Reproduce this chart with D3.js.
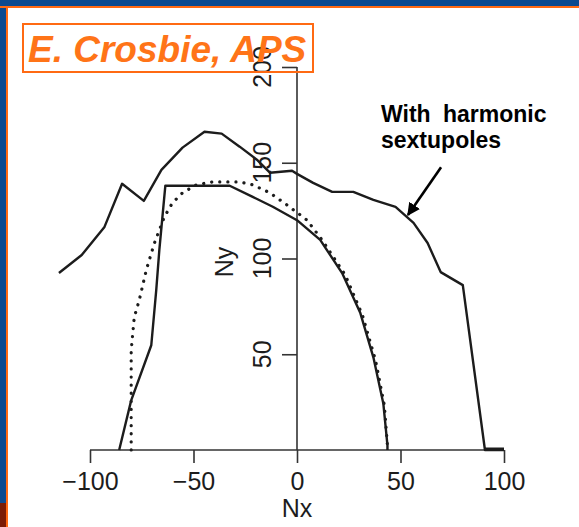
<!DOCTYPE html>
<html>
<head>
<meta charset="utf-8">
<script src="https://cdn.jsdelivr.net/npm/d3@7"></script>
<style>
  html, body { margin: 0; padding: 0; background: #fff; }
  svg { display: block; font-family: "Liberation Sans", Arial, sans-serif; }
</style>
</head>
<body>
<svg id="chart" width="579" height="527"></svg>
<script>
// Dynamic aperture in units of beam size (Nx, Ny).
var harmonicNx = [-115, -104, -93, -84.5, -74, -65.5, -55.3, -44.7, -36.4, -27.7, -19.4, -13.1, -2.4, 0,
                  7.8, 17, 27.2, 36.9, 47.6, 56.3, 63.1, 69.4, 80.1, 90.8, 100];
var harmonicNy = [92.4, 101.8, 116.5, 139, 130.1, 146.3, 157.9, 166.2, 165.2, 158.4, 151.6, 144.8, 145.8, 144.2,
                  139.5, 134.8, 134.8, 130.6, 127, 118.6, 108.1, 92.9, 86.1, 0, 0];

var trackedNx = [-85.9, -80.1, -70.4, -68, -66.5, -63.6, -32.5, -21.4, -11.7, 0, 11.2, 21.8, 30.6, 36.9, 41.7, 43.7, 43.7];
var trackedNy = [0, 25.9, 54.7, 83.5, 104.5, 138, 138, 132.2, 127, 120, 109.7, 92.4, 71.5, 48.4, 24.3, 2.4, 0];

var dottedNx = [-80.1, -80.1, -78.6, -76.2, -72.8, -68.9, -64.1, -60.2, -55.3, -48.5, -40.8, -34, -27.7, -21.4,
                -13.1, -4.9, 4.9, 12.1, 23.3, 31.6, 37.9, 42.2, 43.7];
var dottedNy = [0, 52, 69.4, 78.3, 94, 108, 121.7, 129, 134.3, 138.5, 140, 140, 140, 138.5,
                134.3, 128, 120, 109.7, 91.4, 70.4, 47, 23.3, 2];

var xTicks = [-100, -50, 0, 50, 100];
var yTicks = [50, 100, 150, 200];

var svg = d3.select("#chart");

// slide frame
svg.append("rect").attr("x", 0).attr("y", 0).attr("width", 579).attr("height", 6).attr("fill", "#0b4a90");
svg.append("rect").attr("x", 0).attr("y", 0).attr("width", 6).attr("height", 503).attr("fill", "#0b4a90");
svg.append("rect").attr("x", 0).attr("y", 503).attr("width", 6).attr("height", 24).attr("fill", "#7b1c05");
svg.append("rect").attr("x", 0).attr("y", 6).attr("width", 579).attr("height", 2).attr("fill", "#ff6a13");
svg.append("rect").attr("x", 6).attr("y", 6).attr("width", 2).attr("height", 521).attr("fill", "#ff6a13");

var x = d3.scaleLinear().domain([-100, 100]).range([90, 504]);
var y = d3.scaleLinear().domain([0, 200]).range([450, 67]);

var ink = "#1c1c1c";

// axes: the y axis sits at Nx = 0
var gx = svg.append("g")
    .attr("transform", "translate(0," + y(0) + ")")
    .call(d3.axisBottom(x).tickValues(xTicks).tickSize(13).tickPadding(24)
        .tickFormat(function(d) { return d < 0 ? "\u2212" + (-d) : String(d); }));

var gy = svg.append("g")
    .attr("transform", "translate(" + x(0) + ",0)")
    .call(d3.axisLeft(y).tickValues(yTicks).tickSize(15).tickFormat(""));

[gx, gy].forEach(function(g) {
    g.select(".domain").attr("stroke", "#333").attr("stroke-width", 1.6);
    g.selectAll(".tick line").attr("stroke", "#333").attr("stroke-width", 1.6);
});
gx.select(".domain").attr("d", "M" + x(-100) + ",0H" + x(100));
gy.select(".domain").attr("d", "M0," + y(200) + "V" + y(0));

gx.selectAll(".tick text")
    .attr("fill", ink).attr("font-size", 25).attr("dy", 0).attr("y", 40);

// rotated y tick labels
svg.selectAll(".ylab").data(yTicks).enter().append("text")
    .attr("class", "ylab")
    .attr("transform", function(d) { return "translate(271," + y(d) + ") rotate(-90)"; })
    .attr("text-anchor", "middle")
    .attr("font-size", 25)
    .attr("fill", ink)
    .text(function(d) { return d; });

svg.append("text")
    .attr("x", x(0)).attr("y", 517)
    .attr("text-anchor", "middle").attr("font-size", 25).attr("fill", ink)
    .text("Nx");

svg.append("text")
    .attr("transform", "translate(233,262) rotate(-90)")
    .attr("text-anchor", "middle").attr("font-size", 25).attr("fill", ink)
    .text("Ny");

var line = d3.line()
    .x(function(d) { return x(d[0]); })
    .y(function(d) { return y(d[1]); });

function pairs(xs, ys) { return xs.map(function(v, i) { return [v, ys[i]]; }); }

svg.append("path")
    .attr("d", line(pairs(dottedNx, dottedNy)))
    .attr("fill", "none").attr("stroke", ink)
    .attr("stroke-width", 3.2).attr("stroke-linecap", "round")
    .attr("stroke-dasharray", "0.1 8");

svg.append("path")
    .attr("d", line(pairs(trackedNx, trackedNy)))
    .attr("fill", "none").attr("stroke", ink)
    .attr("stroke-width", 2.4).attr("stroke-linejoin", "round");

svg.append("path")
    .attr("d", line(pairs(harmonicNx, harmonicNy)))
    .attr("fill", "none").attr("stroke", ink)
    .attr("stroke-width", 2.4).attr("stroke-linejoin", "round");

// thick end segment along the axis
svg.append("line")
    .attr("x1", x(90.8)).attr("x2", x(100)).attr("y1", y(0) - 1).attr("y2", y(0) - 1)
    .attr("stroke", ink).attr("stroke-width", 3);

// annotation
svg.append("defs").append("marker")
    .attr("id", "head").attr("viewBox", "0 0 10 10")
    .attr("refX", 9).attr("refY", 5)
    .attr("markerWidth", 5).attr("markerHeight", 5)
    .attr("orient", "auto")
  .append("path").attr("d", "M0,0L10,5L0,10Z").attr("fill", "#000");

svg.append("line")
    .attr("x1", x(69.6)).attr("y1", y(147.7))
    .attr("x2", x(53.6)).attr("y2", y(122.7))
    .attr("stroke", "#000").attr("stroke-width", 2.6)
    .attr("marker-end", "url(#head)");

var note = svg.append("text")
    .attr("font-size", 23).attr("font-weight", "bold").attr("fill", "#000");
note.append("tspan").attr("x", 381).attr("y", 122).attr("word-spacing", 6).text("With harmonic");
note.append("tspan").attr("x", 381).attr("y", 148).text("sextupoles");

// title box
svg.append("rect")
    .attr("x", 23).attr("y", 24).attr("width", 290).attr("height", 48)
    .attr("fill", "none").attr("stroke", "#ff6a13").attr("stroke-width", 2);

svg.append("text")
    .attr("x", 28).attr("y", 62)
    .attr("font-size", 37).attr("font-weight", "bold").attr("font-style", "italic")
    .attr("fill", "#ff7418")
    .text("E. Crosbie, APS");
</script>
</body>
</html>
